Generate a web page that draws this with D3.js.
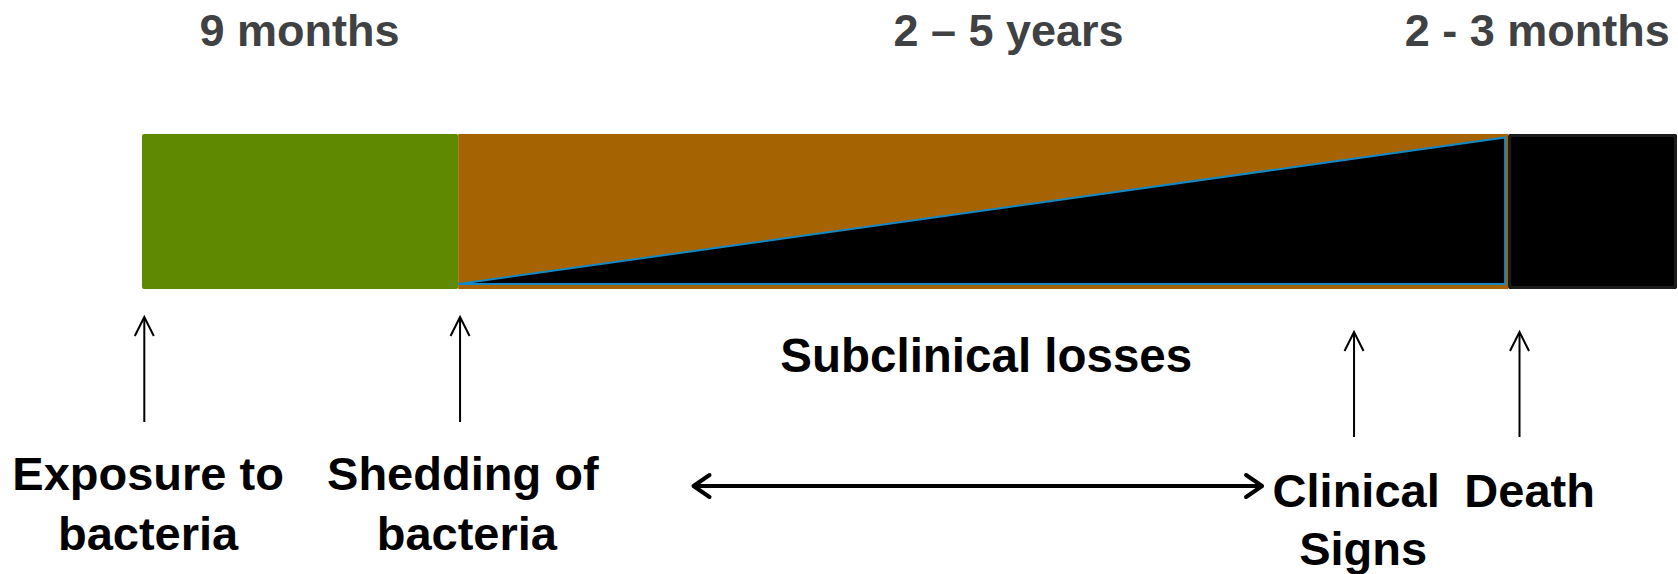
<!DOCTYPE html>
<html>
<head>
<meta charset="utf-8">
<script src="https://cdn.jsdelivr.net/npm/d3@7"></script>
<style>
  html, body { margin: 0; padding: 0; background: #fff; }
  svg { display: block; font-family: "Liberation Sans", Arial, sans-serif; font-weight: bold; }
</style>
</head>
<body>
<svg id="chart" width="1678" height="574"></svg>
<script>
// ---- data (timeline units 0..100 along the bar) ----
const phases      = ["9 months", "2 – 5 years", "2 - 3 months"];
const phaseStart  = [0, 20.6, 89.0];
const phaseEnd    = [20.6, 89.0, 100];
const phaseLabelAt = [10.26, 56.45, 90.9];
const phaseColors = ["#5f8a00", "#a66302", "#000000"];

const events       = [["Exposure to", "bacteria"], ["Shedding of", "bacteria"], ["Clinical", "Signs"], ["Death"]];
const eventAt      = [0.15, 20.72, 78.96, 89.74];
const eventLabelAt = [0.4, 20.9, 79.1, 90.4];
const eventRow     = [0, 0, 1, 1];

const subclinicalLabel = "Subclinical losses";
const subclinicalLabelAt = 55.0;
const subclinicalSpan = [35.8, 73.1];
// growing losses wedge: [timeline position, relative level]
const lossWedge = [[20.6, 0], [88.8, 1], [88.8, 0]];

// ---- layout ----
const svg = d3.select("#chart");
const x = d3.scaleLinear().domain([0, 100]).range([142, 1677]);
const barY = d3.scaleLinear().domain([0, 1]).range([289, 134]);
const wedgeY = d3.scaleLinear().domain([0, 1]).range([284, 137.5]);

// phase labels
svg.selectAll("text.phase").data(phases).join("text")
  .attr("class", "phase")
  .attr("x", (d, i) => x(phaseLabelAt[i]))
  .attr("y", 45.5)
  .attr("text-anchor", "middle")
  .attr("font-size", 45)
  .attr("fill", "#404143")
  .text(d => d);

// phase bars
svg.selectAll("rect.phase").data(phases).join("rect")
  .attr("class", "phase")
  .attr("x", (d, i) => x(phaseStart[i]))
  .attr("y", barY(1))
  .attr("width", (d, i) => x(phaseEnd[i]) - x(phaseStart[i]))
  .attr("height", barY(0) - barY(1))
  .attr("fill", (d, i) => phaseColors[i])
  .attr("rx", (d, i) => i === 1 ? 0 : 2);

// border on last (black) phase
svg.append("rect")
  .attr("x", x(phaseStart[2]) + 1.5)
  .attr("y", barY(1) + 1.5)
  .attr("width", x(phaseEnd[2]) - x(phaseStart[2]) - 3)
  .attr("height", barY(0) - barY(1) - 3)
  .attr("fill", "none")
  .attr("stroke", "#1c1c1c")
  .attr("stroke-width", 3)
  .attr("rx", 3);

// losses wedge
svg.append("path")
  .attr("d", d3.line().x(d => x(d[0])).y(d => wedgeY(d[1])).curve(d3.curveLinearClosed)(lossWedge))
  .attr("fill", "#000")
  .attr("stroke", "#1388c4")
  .attr("stroke-width", 2)
  .attr("stroke-linejoin", "miter");

// event arrows
const arrowTop = [317, 317, 332, 332];
const arrowLen = 105;
eventAt.forEach((v, i) => {
  const ax = x(v), t = arrowTop[i];
  svg.append("line")
    .attr("x1", ax).attr("x2", ax)
    .attr("y1", t + 1).attr("y2", t + arrowLen)
    .attr("stroke", "#000").attr("stroke-width", 2);
  svg.append("path")
    .attr("d", `M${ax - 9.5},${t + 19} L${ax},${t} L${ax + 9.5},${t + 19}`)
    .attr("fill", "none").attr("stroke", "#000").attr("stroke-width", 2);
});

// event labels
const rowBase = [490, 507];
const rowGap = [60, 58];
events.forEach((lines, i) => {
  const t = svg.append("text")
    .attr("text-anchor", "middle")
    .attr("font-size", 47)
    .attr("fill", "#000");
  lines.forEach((ln, j) => {
    t.append("tspan")
      .attr("x", x(eventLabelAt[i]) + (j === 1 && i === 2 ? 7 : 0) + (j === 1 && i === 1 ? 4 : 0))
      .attr("y", rowBase[eventRow[i]] + j * rowGap[eventRow[i]])
      .text(ln);
  });
});

// subclinical label
svg.append("text")
  .attr("x", x(subclinicalLabelAt))
  .attr("y", 371.5)
  .attr("text-anchor", "middle")
  .attr("font-size", 47.5)
  .attr("fill", "#000")
  .text(subclinicalLabel);

// double arrow
const dy = 486;
const x0 = x(subclinicalSpan[0]), x1 = x(subclinicalSpan[1]);
svg.append("line")
  .attr("x1", x0 + 2).attr("x2", x1 - 2)
  .attr("y1", dy).attr("y2", dy)
  .attr("stroke", "#000").attr("stroke-width", 4);
svg.append("path")
  .attr("d", `M${x0 + 18},${dy - 11} L${x0 + 2},${dy} L${x0 + 18},${dy + 11}`)
  .attr("fill", "none").attr("stroke", "#000").attr("stroke-width", 4)
  .attr("stroke-linecap", "round").attr("stroke-linejoin", "round");
svg.append("path")
  .attr("d", `M${x1 - 18},${dy - 11} L${x1 - 2},${dy} L${x1 - 18},${dy + 11}`)
  .attr("fill", "none").attr("stroke", "#000").attr("stroke-width", 4)
  .attr("stroke-linecap", "round").attr("stroke-linejoin", "round");
</script>
</body>
</html>
